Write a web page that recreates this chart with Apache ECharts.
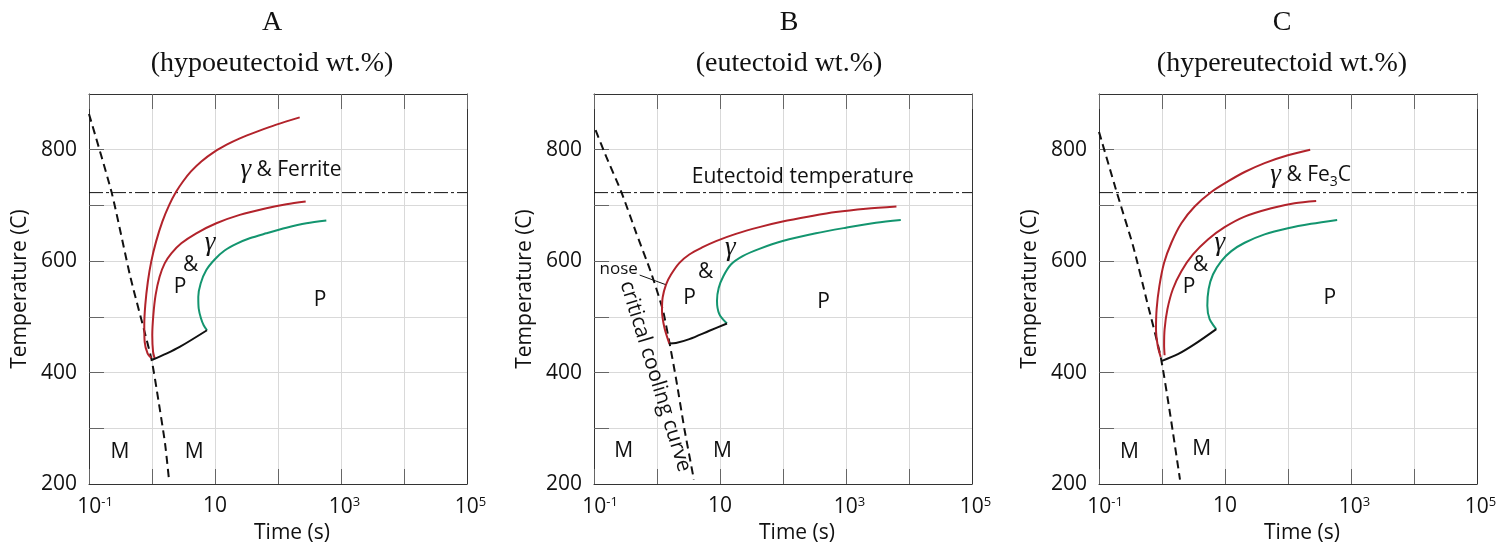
<!DOCTYPE html>
<html>
<head>
<meta charset="utf-8">
<title>Pearlite transformation curves</title>
<script src="https://cdn.jsdelivr.net/npm/echarts@6/dist/echarts.min.js"></script>
<style>
html, body { margin: 0; padding: 0; background: #fff; }
#main { width: 1512px; height: 544px; }
</style>
</head>
<body>
<div id="main"></div>
<script>
var titles = ['A', 'B', 'C'];
var subtitles = ['(hypoeutectoid wt.%)', '(eutectoid wt.%)', '(hypereutectoid wt.%)'];
var tempLabels = [200, 400, 600, 800];
var timeLabelExps = [-1, 1, 3, 5];
var eutectoid = 723;

// panel A  [time (s), temperature (C)]
var coolA = [[0.1, 864], [0.229, 723], [0.457, 570], [0.976, 425], [1.26, 351], [1.61, 273], [1.86, 208]];
var ferriteA = [[221, 858], [94.1, 845], [47.5, 833], [24.3, 820], [15.3, 809], [10.0, 797], [6.07, 779],
    [4.16, 761], [3.10, 743], [2.40, 724], [1.88, 701], [1.46, 671], [1.16, 635], [0.976, 600], [0.859, 563],
    [0.782, 521], [0.754, 485], [0.765, 455], [0.853, 434], [0.976, 426]];
var startA = [[275, 707], [136, 702], [65.3, 695], [24.7, 683], [10.5, 668], [5.05, 650], [2.92, 632], [2.03, 614],
    [1.59, 596], [1.32, 572], [1.14, 539], [1.05, 503], [1.01, 467], [1.04, 437], [1.10, 426]];
var finishA = [[585, 673], [282, 668], [136, 660], [65.3, 650], [35.5, 641], [21.8, 631], [14.2, 619], [9.88, 603],
    [7.28, 584], [5.92, 560], [5.43, 536], [5.51, 515], [6.00, 497], [6.61, 485], [7.46, 476]];
var lowerA = [[7.46, 476], [2.75, 446], [1.69, 434], [1.01, 423]];
var textA = [['{g|γ} & Ferrite', 161, 763], ['P', 2.78, 554], ['&', 4.11, 593], ['{g|γ}', 8.34, 632],
    ['P', 464, 530], ['M', 0.310, 258], ['M', 4.69, 258]];

// panel B
var coolB = [[0.106, 835], [0.157, 787], [0.272, 724], [0.470, 650], [0.813, 578], [1.24, 512], [1.58, 453],
    [2.02, 387], [2.74, 297], [3.85, 208]];
var startB = [[6320, 698], [2070, 694], [690, 688], [261, 680], [98.6, 671], [42.1, 661], [17.9, 649], [8.65, 636],
    [5.31, 625], [3.26, 612], [2.27, 597], [1.67, 576], [1.39, 558], [1.23, 535], [1.20, 511], [1.31, 481],
    [1.57, 452]];
var finishB = [[7410, 674], [2980, 669], [996, 660], [333, 650], [98.6, 636], [42.1, 622], [22.9, 609], [14.9, 594],
    [11.3, 573], [9.53, 552], [8.96, 529], [9.75, 505], [12.9, 488]];
var lowerB = [[12.9, 488], [6.78, 475], [3.26, 460], [2.00, 453], [1.57, 452]];
var noseB = [[0.531, 575], [1.36, 558]];
var textB = [['Eutectoid temperature', 206, 751], ['{n|nose}', 0.247, 586], ['critical cooling curve', 0.942, 393],
    ['P', 3.29, 533], ['&', 5.90, 581], ['{g|γ}', 14.6, 623], ['P', 439, 527], ['M', 0.296, 260], ['M', 10.9, 260]];

// panel C
var coolC = [[0.1, 832], [0.191, 724], [0.350, 626], [0.571, 530], [0.953, 428], [1.34, 327], [1.93, 208]];
var cementiteC = [[225, 800], [99.5, 790], [42.5, 776], [20.5, 760], [11.1, 743], [6.06, 724], [3.30, 698],
    [2.03, 668], [1.41, 633], [1.08, 597], [0.908, 555], [0.822, 514], [0.803, 478], [0.853, 449], [0.953, 428]];
var startC = [[280, 708], [127, 704], [54.2, 695], [20.5, 680], [9.86, 661], [5.36, 639], [3.10, 612], [2.03, 582],
    [1.49, 550], [1.22, 514], [1.10, 478], [1.08, 449], [1.10, 431]];
var finishC = [[603, 674], [233, 667], [99.5, 659], [42.5, 648], [20.5, 633], [12.6, 618], [8.73, 600], [6.44, 576],
    [5.50, 550], [5.24, 520], [5.70, 496], [7.27, 478]];
var lowerC = [[7.27, 478], [3.30, 451], [1.79, 433], [1.0, 421]];
var textC = [['{g|γ} & Fe{sub|3}C', 229, 754], ['P', 2.70, 554], ['&', 4.10, 593], ['{g|γ}', 8.30, 632],
    ['P', 461, 533], ['M', 0.303, 258], ['M', 4.26, 263]];

var panels = [
    {cool: coolA, red: [ferriteA, startA], green: finishA, black: lowerA, text: textA},
    {cool: coolB, red: [startB], green: finishB, black: lowerB, text: textB, arrow: noseB},
    {cool: coolC, red: [cementiteC, startC], green: finishC, black: lowerC, text: textC}
];

var SANS = "'Open Sans', 'Noto Sans', sans-serif";
var SERIF = "'Liberation Serif', 'DejaVu Serif', serif";
var INK = '#111';
var RED = '#b2232b';
var GREEN = '#13956f';
var gridLeft = [89, 594, 1099];
var titleX = [272, 789, 1282];

var grids = [], xAxes = [], yAxes = [], series = [], graphics = [];

gridLeft.forEach(function (l, i) {
    grids.push({left: l, top: 94, width: 378, height: 390, containLabel: false, outerBoundsMode: 'none'});
    graphics.push({type: 'text', x: titleX[i], y: 23,
        style: {text: titles[i], font: '28px ' + SERIF, fill: INK, align: 'center', verticalAlign: 'middle',
            textAlign: 'center', textVerticalAlign: 'middle'}});
    graphics.push({type: 'text', x: titleX[i], y: 64,
        style: {text: subtitles[i], font: '28px ' + SERIF, fill: INK, align: 'center', verticalAlign: 'middle',
            textAlign: 'center', textVerticalAlign: 'middle'}});
});

function timeAxis(i, top) {
    return {
        type: 'log', logBase: 10, gridIndex: i, min: 0.1, max: 100000, interval: 1, splitNumber: 6,
        position: top ? 'top' : 'bottom', z: top ? 3 : 2,
        name: top ? '' : 'Time (s)', nameLocation: 'middle', nameGap: 33,
        nameTextStyle: {fontFamily: SANS, fontSize: 21, color: INK, padding: [0, 0, 0, 28]},
        axisLine: {show: true, lineStyle: {color: '#333', width: 1}},
        axisTick: {show: true, inside: true, length: 15, lineStyle: {color: '#666'}},
        axisLabel: {
            show: !top, margin: 12, color: INK,
            formatter: function (v) {
                var e = Math.round(Math.log10(v));
                if (timeLabelExps.indexOf(e) < 0) return '';
                if (e === 1) return '{b|10}';
                return (e < 0 ? '{bm|10}' : '{bp|10}') + '{s|' + e + '}';
            },
            rich: {
                b: {fontFamily: SANS, fontSize: 21, color: INK},
                bm: {fontFamily: SANS, fontSize: 21, color: INK, padding: [0, 0, 0, 12]},
                bp: {fontFamily: SANS, fontSize: 21, color: INK, padding: [0, 0, 0, 7]},
                s: {fontFamily: SANS, fontSize: 13, color: INK, verticalAlign: 'top', padding: [0, 0, 9, 0]}
            }
        },
        splitLine: {show: !top, showMinLine: false, showMaxLine: false, lineStyle: {color: '#d9d9d9', width: 1}}
    };
}

function tempAxis(i, right) {
    return {
        type: 'value', gridIndex: i, min: 200, max: 900, interval: 100,
        position: right ? 'right' : 'left', z: right ? 3 : 1,
        name: right ? '' : 'Temperature (C)', nameLocation: 'middle', nameGap: 58,
        nameTextStyle: {fontFamily: SANS, fontSize: 21, color: INK},
        axisLine: {show: true, lineStyle: {color: '#333', width: 1}},
        axisTick: {show: !right, inside: true, length: 15, lineStyle: {color: '#666'}},
        axisLabel: {
            show: !right, margin: 12, fontFamily: SANS, fontSize: 21, color: INK,
            formatter: function (v) { return tempLabels.indexOf(v) >= 0 ? String(v) : ''; }
        },
        splitLine: {show: !right, showMinLine: false, showMaxLine: false, lineStyle: {color: '#d9d9d9', width: 1}}
    };
}

[0, 1, 2].forEach(function (i) { xAxes.push(timeAxis(i, false)); yAxes.push(tempAxis(i, false)); });
[0, 1, 2].forEach(function (i) { xAxes.push(timeAxis(i, true)); yAxes.push(tempAxis(i, true)); });

function curve(i, data, color, width, type, smooth) {
    return {
        type: 'line', xAxisIndex: i, yAxisIndex: i, data: data, symbol: 'none', smooth: smooth,
        silent: true, z: 4,
        lineStyle: {color: color, width: width, type: type}
    };
}

panels.forEach(function (p, i) {
    series.push(curve(i, [[0.1, eutectoid], [100000, eutectoid]], INK, 1, [14, 3, 3, 3], false));
    series.push(curve(i, p.cool, INK, 2, [8, 5], 0.2));
    p.red.forEach(function (d) { series.push(curve(i, d, RED, 2, 'solid', 0.3)); });
    series.push(curve(i, p.green, GREEN, 2, 'solid', 0.3));
    series.push(curve(i, p.black, INK, 2, 'solid', 0.3));

    var labelSeries = {
        type: 'scatter', xAxisIndex: i, yAxisIndex: i, symbolSize: 0, silent: true, z: 5,
        itemStyle: {opacity: 1},
        data: p.text.map(function (t) {
            var item = {name: t[0], value: [t[1], t[2]]};
            if (t[0] === 'critical cooling curve') item.label = {rotate: -72.8};
            return item;
        }),
        label: {
            show: true, position: 'inside', fontFamily: SANS, fontSize: 21, color: INK, opacity: 1,
            formatter: function (q) { return q.name; },
            rich: {
                g: {fontFamily: SERIF, fontStyle: 'italic', fontSize: 27, color: INK},
                n: {fontFamily: SANS, fontSize: 17, color: INK},
                sub: {fontFamily: SANS, fontSize: 14, color: INK, verticalAlign: 'bottom', padding: [10, 0, 0, 0]}
            }
        }
    };
    if (p.arrow) {
        labelSeries.markLine = {
            silent: true, symbol: ['none', 'arrow'], symbolSize: [0, 8],
            label: {show: false},
            lineStyle: {color: INK, width: 1, type: 'solid', opacity: 1},
            data: [[{coord: p.arrow[0]}, {coord: p.arrow[1]}]]
        };
    }
    series.push(labelSeries);
});

var option = {
    animation: false,
    backgroundColor: '#fff',
    grid: grids,
    xAxis: xAxes,
    yAxis: yAxes,
    graphic: graphics,
    series: series
};

var myChart = echarts.init(document.getElementById('main'));
myChart.setOption(option);
</script>
</body>
</html>
